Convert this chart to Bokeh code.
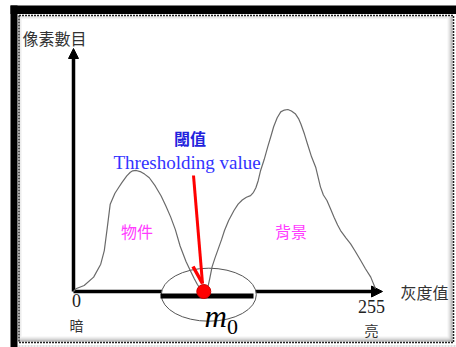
from bokeh.plotting import figure
from bokeh.models import Range1d, Arrow, NormalHead
from bokeh.core.properties import value
from bokeh.embed import file_html
from bokeh.resources import INLINE

# ---- data: gray-level histogram (gray level 0..255 vs pixel count) ----
gray_levels = [0, 2, 9, 17, 23, 26, 28.5, 31, 35, 38, 41, 45, 48, 50, 53, 57, 60, 64, 69, 74, 78,
               82, 86, 90, 95, 99, 102, 104.5, 107,
               110,
               113, 115, 117, 119.5, 122, 125, 127.5, 131, 135.5, 139, 142.5, 146, 149.5, 152, 154, 156,
               158, 161, 164, 167, 169, 172, 175, 178, 181, 184, 187.5, 190, 192, 195, 197.5, 201,
               204.5, 208.5, 211, 214, 217, 220, 223, 225.5, 230, 234, 238, 242.5, 246.5, 251, 255]
pixel_counts = [0, 1.5, 3.3, 7.9, 15, 22.5, 35, 48, 54, 57, 60, 63.5, 65.5, 66.3, 66.5, 65.7, 64.5,
                62.5, 58, 52.5, 47, 41, 34, 25, 16.5, 11, 7, 4, 1.5,
                0,
                1, 7, 13.5, 18.5, 23, 28.5, 33.5, 39, 44.5, 48, 50.3, 51.8, 52.7, 54.5, 57, 61,
                66.5, 72.5, 79.5, 86, 90.5, 95.5, 98.7, 99.7, 100, 99.2, 97.5, 95, 92, 86.5, 81.2, 74,
                68.3, 57.5, 53, 50, 45.5, 40.8, 36.5, 33.5, 29.5, 26.2, 22, 17, 12.5, 7.9, 1.5]
threshold_m0 = [110]
threshold_count = [0]

y_axis_label = "像素數目"
x_axis_label = "灰度值"
tick_labels = ["0", "255"]
tick_notes = ["暗", "亮"]
class_labels = ["物件", "背景"]
title_cn = "閾值"
title_en = "Thresholding value"

# ---- pixel <-> data helpers (layout only) ----
PX0, SX = 73.0, (375.0 - 73.0) / 255.0
PY0, SY = 291.0, 1.82


def gx(px):
    return (px - PX0) / SX


def cy(py):
    return (PY0 - py) / SY


W, H = 456, 347
p = figure(width=W, height=H, x_range=Range1d(gx(0), gx(W)), y_range=Range1d(cy(H), cy(0)),
           output_backend="svg", toolbar_location=None, min_border=0)
p.axis.visible = False
p.grid.visible = False
p.outline_line_color = None
p.background_fill_color = "white"
p.border_fill_color = "white"

CJK = value("Noto Sans CJK TC")
SERIF = value("Liberation Serif")

# ---- frame ----
p.quad(left=[gx(10)], right=[gx(456)], top=[cy(5)], bottom=[cy(13.5)], fill_color="black", line_color=None)
p.quad(left=[gx(10)], right=[gx(17)], top=[cy(5)], bottom=[cy(347)], fill_color="black", line_color=None)
shade = ["#f2f2f2", "#e4e4e4", "#d2d2d2", "#bcbcbc", "#a0a0a0"]
for i, c in enumerate(shade):
    xx = 447.5 + i
    p.segment(x0=[gx(xx)], y0=[cy(16)], x1=[gx(xx)], y1=[cy(341)], line_color=c, line_width=1)
    yy = 336.5 + i
    p.segment(x0=[gx(19)], y0=[cy(yy)], x1=[gx(452)], y1=[cy(yy)], line_color=c, line_width=1)
for i, c in enumerate(["#d8d8d8", "#ececec"]):
    p.segment(x0=[gx(19.5 + i)], y0=[cy(16)], x1=[gx(19.5 + i)], y1=[cy(336)], line_color=c, line_width=1)
    p.segment(x0=[gx(19)], y0=[cy(16.5 + i)], x1=[gx(447)], y1=[cy(16.5 + i)], line_color=c, line_width=1)
frame_x = [gx(18.5), gx(453), gx(453), gx(18.5), gx(18.5)]
frame_y = [cy(15), cy(15), cy(342), cy(342), cy(15)]
p.line(frame_x, frame_y, line_color="#222222", line_width=1.5, line_dash="2 1")
p.line([gx(18), gx(456)], [cy(345.5), cy(345.5)], line_color="#bbbbbb", line_width=1, line_dash="2 1")

# ---- axes (shafts as glyphs, heads as arrows) ----
p.segment(x0=[0], y0=[0], x1=[0], y1=[cy(56)], line_color="black", line_width=3.5)
p.segment(x0=[0], y0=[0], x1=[gx(372)], y1=[0], line_color="black", line_width=3.5)
p.add_layout(Arrow(end=NormalHead(size=10, fill_color="black", line_color="black", line_width=1),
                   x_start=0, y_start=cy(58), x_end=0, y_end=cy(48), line_alpha=0, level="underlay"))
p.add_layout(Arrow(end=NormalHead(size=11, fill_color="black", line_color="black", line_width=1),
                   x_start=gx(370), y_start=0, x_end=gx(382), y_end=0, line_alpha=0, level="underlay"))

# ---- ellipse around threshold ----
p.ellipse(x=[gx(208.3)], y=[cy(294.2)], width=95, height=53, width_units="screen", height_units="screen",
          fill_color="white", line_color="#555555", line_width=1)

# ---- histogram curve ----
p.line(gray_levels, pixel_counts, line_color="#6a6a6a", line_width=1.2, line_join="round")

# ---- threshold search bar ----
p.segment(x0=[gx(160)], y0=[cy(295.5)], x1=[gx(253)], y1=[cy(295.5)], line_color="black", line_width=5)

# ---- red arrow ----
p.segment(x0=[gx(193)], y0=[cy(175)], x1=[gx(202)], y1=[cy(283)], line_color="red", line_width=3)
p.segment(x0=[gx(192.5)], y0=[cy(266)], x1=[gx(202)], y1=[cy(283)], line_color="red", line_width=3.5)

# ---- threshold point ----
p.scatter(x=threshold_m0, y=threshold_count, size=14, fill_color="red", line_color="#cc0000")

# ---- texts ----
p.text(x=[gx(22)], y=[cy(37)], text=[y_axis_label], text_font=CJK, text_font_size=value("16px"),
       text_color="#333333", text_align="left", text_baseline="middle")
p.text(x=[gx(400)], y=[cy(291)], text=[x_axis_label], text_font=CJK, text_font_size=value("16px"),
       text_color="#333333", text_align="left", text_baseline="middle")
p.text(x=[0 + gx(76) - gx(73), 255 + gx(371) - gx(375)], y=[cy(300), cy(306)], text=tick_labels,
       text_font=SERIF, text_font_size=value("18px"), text_color="#222222",
       text_align="center", text_baseline="middle")
p.text(x=[gx(76), gx(371)], y=[cy(324), cy(329)], text=tick_notes, text_font=CJK,
       text_font_size=value("14px"), text_color="#333333", text_align="center", text_baseline="middle")
p.text(x=[gx(136.5), gx(290.5)], y=[cy(230), cy(230)], text=class_labels, text_font=CJK,
       text_font_size=value("16px"), text_color="#ff3cff", text_align="center", text_baseline="middle")
p.text(x=[gx(189.5)], y=[cy(137)], text=[title_cn], text_font=CJK, text_font_size=value("16px"),
       text_font_style="bold", text_color="#2222dd", text_align="center", text_baseline="middle")
p.text(x=[gx(113)], y=[cy(162)], text=[title_en], text_font=SERIF, text_font_size=value("19px"),
       text_color="#3333ff", text_align="left", text_baseline="alphabetic")
p.text(x=[gx(204)], y=[cy(316)], text=["m"], text_font=SERIF, text_font_size=value("31px"),
       text_font_style="italic", text_color="black", text_align="left", text_baseline="alphabetic")
p.text(x=[gx(226.5)], y=[cy(326)], text=["0"], text_font=SERIF, text_font_size=value("22px"),
       text_color="black", text_align="left", text_baseline="alphabetic")

open("out.html", "w").write(file_html(p, INLINE))
